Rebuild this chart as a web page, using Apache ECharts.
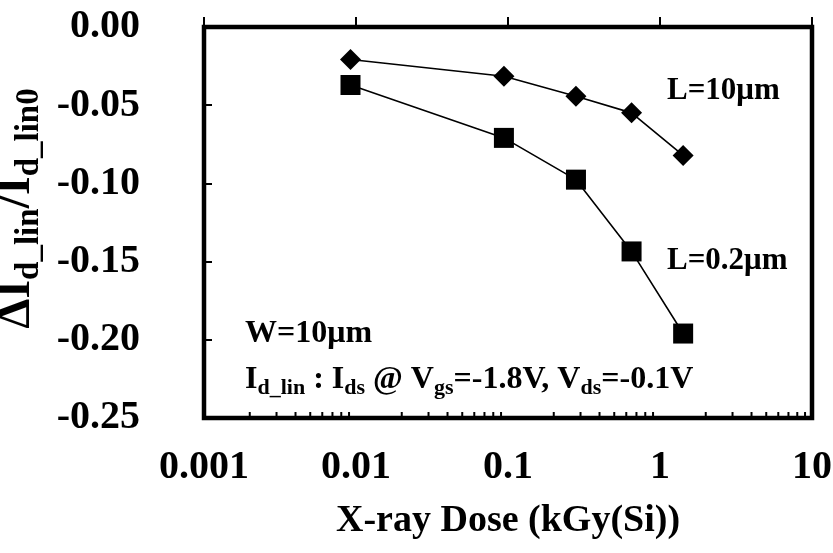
<!DOCTYPE html>
<html>
<head>
<meta charset="utf-8">
<script src="https://cdn.jsdelivr.net/npm/echarts@6/dist/echarts.min.js"></script>
<style>
  html, body { margin: 0; padding: 0; background: #fff; }
  #chart { width: 833px; height: 553px; }
</style>
</head>
<body>
<div id="chart"></div>
<script>
// Dose points (kGy(Si)) shared by both devices
const doses = [0.0092, 0.094, 0.28, 0.65, 1.42];
// Relative linear drain current shift, L = 10 um device
const longChannel = [-0.0208, -0.0315, -0.0443, -0.0549, -0.0821];
// Relative linear drain current shift, L = 0.2 um device
const shortChannel = [-0.0371, -0.0709, -0.0976, -0.1435, -0.196];
// Axis ticks
const xDecades = [0.001, 0.01, 0.1, 1, 10];
const yTicks = [0, -0.05, -0.10, -0.15, -0.20, -0.25];

const FONT = '"Liberation Serif", "Times New Roman", serif';

// minor log ticks at 2..9 within each decade
const minorTicks = [];
for (let d = 0; d < xDecades.length - 1; d++) {
  for (let k = 2; k <= 9; k++) minorTicks.push(xDecades[d] * k);
}

const chart = echarts.init(document.getElementById('chart'), null, { renderer: 'canvas' });

// subscripts: smaller font, pushed down by top padding
const subY = {
  m: { fontSize: 48, fontWeight: 'bold', fontFamily: FONT, color: '#000', verticalAlign: 'middle' },
  s: { fontSize: 33, fontWeight: 'bold', fontFamily: FONT, color: '#000', verticalAlign: 'middle', padding: [26, 0, 0, 0] }
};
const subT = {
  m: { fontSize: 32, fontWeight: 'bold', fontFamily: FONT, fill: '#000', verticalAlign: 'middle' },
  s: { fontSize: 22, fontWeight: 'bold', fontFamily: FONT, fill: '#000', verticalAlign: 'middle', padding: [17, 0, 0, 0] }
};

chart.setOption({
  animation: false,
  backgroundColor: '#fff',
  grid: {
    left: 204, right: 21, top: 27, bottom: 135,
    outerBoundsMode: 'none', containLabel: false,
    show: true, borderColor: '#000', borderWidth: 4.5, backgroundColor: 'transparent'
  },
  xAxis: {
    type: 'log', logBase: 10, min: xDecades[0], max: xDecades[xDecades.length - 1],
    axisLine: { show: false },
    splitLine: { show: false },
    axisTick: { show: true, inside: true, length: 10, lineStyle: { color: '#000', width: 2 } },
    axisLabel: {
      margin: 30, color: '#000', fontSize: 40, fontWeight: 'bold', fontFamily: FONT,
      formatter: v => {
        const e = Math.round(Math.log10(v));
        return e >= 0 ? String(Math.pow(10, e)) : Math.pow(10, e).toFixed(-e);
      }
    },
    name: 'X-ray Dose (kGy(Si))',
    nameLocation: 'middle', nameGap: 84,
    nameTextStyle: { color: '#000', fontSize: 38, fontWeight: 'bold', fontFamily: FONT }
  },
  yAxis: {
    type: 'value', min: yTicks[yTicks.length - 1], max: yTicks[0], interval: 0.05,
    axisLine: { show: false },
    splitLine: { show: false },
    axisTick: { show: true, inside: true, length: 8, lineStyle: { color: '#000', width: 2 } },
    axisLabel: {
      margin: 64, color: '#000', fontSize: 40, fontWeight: 'bold', fontFamily: FONT,
      formatter: v => v.toFixed(2)
    },
    name: '{m|ΔI}{s|d_lin}{m|/I}{s|d_lin0}',
    nameLocation: 'middle', nameRotate: 90, nameGap: 138,
    nameTextStyle: { rich: subY, padding: [0, 0, 0, 28] }
  },
  series: [
    {
      type: 'line', name: 'L=10μm',
      data: doses.map((d, i) => [d, longChannel[i]]),
      symbol: 'diamond', symbolSize: [21, 21],
      lineStyle: { color: '#000', width: 1.6 },
      itemStyle: { color: '#000' },
      z: 3
    },
    {
      type: 'line', name: 'L=0.2μm',
      data: doses.map((d, i) => [d, shortChannel[i]]),
      symbol: 'rect', symbolSize: [20, 20],
      lineStyle: { color: '#000', width: 1.6 },
      itemStyle: { color: '#000' },
      z: 3
    },
    {
      // minor ticks of the log dose axis
      type: 'custom', silent: true, z: 2,
      data: minorTicks.map(v => [v]),
      renderItem: (params, api) => {
        const p = api.coord([api.value(0), yTicks[yTicks.length - 1]]);
        return {
          type: 'line',
          shape: { x1: p[0], y1: p[1], x2: p[0], y2: p[1] - 6 },
          style: { stroke: '#000', lineWidth: 2 }
        };
      }
    }
  ],
  graphic: [
    { type: 'text', left: 667, top: 75, style: { text: 'L=10μm', font: 'bold 31px ' + FONT, fill: '#000' } },
    { type: 'text', left: 667, top: 245, style: { text: 'L=0.2μm', font: 'bold 31px ' + FONT, fill: '#000' } },
    { type: 'text', left: 245, top: 318, style: { text: 'W=10μm', font: 'bold 32px ' + FONT, fill: '#000' } },
    {
      type: 'text', left: 245, top: 364,
      style: {
        text: '{m|I}{s|d_lin}{m| : I}{s|ds}{m| @ V}{s|gs}{m|=-1.8V, V}{s|ds}{m|=-0.1V}',
        rich: subT
      }
    }
  ]
});
</script>
</body>
</html>
